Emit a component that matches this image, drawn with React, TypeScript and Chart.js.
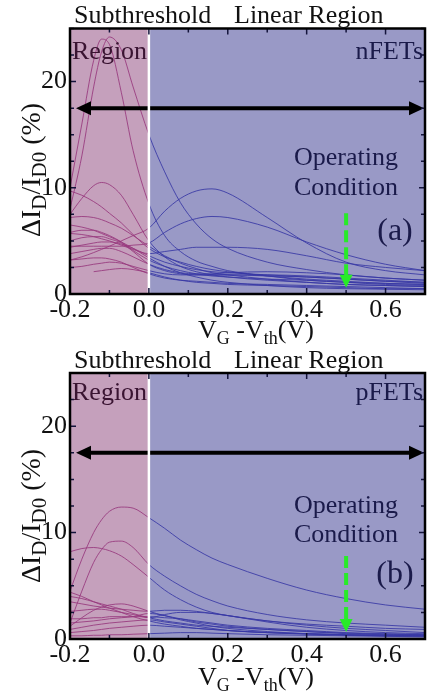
import React, { useEffect, useRef } from "react";
import { Chart, registerables } from "chart.js";

Chart.register(...registerables);

// ---------- data ----------
const xGrid = [-0.2, -0.17, -0.14, -0.12, -0.1, -0.07, -0.04, 0, 0.04, 0.08, 0.12, 0.16, 0.2, 0.3, 0.4, 0.5, 0.6, 0.7];

const n1 = [10, 16, 22, 24, 23.5, 19, 13.5, 8.5, 5.5, 4, 3.1, 2.6, 2.2, 1.7, 1.3, 1.1, 0.9, 0.8];
const n2 = [8, 13, 19.5, 22.8, 24.2, 23, 19.5, 15, 11.5, 8.6, 6.6, 5.2, 4.3, 3.0, 2.3, 1.8, 1.5, 1.3];
const n3 = [7.5, 9, 10.2, 10.5, 10.3, 9.3, 7.5, 5.0, 3.5, 2.6, 2.1, 1.8, 1.6, 1.3, 1.1, 0.9, 0.8, 0.7];
const n4 = [9.7, 9.3, 8.7, 8.2, 7.6, 6.7, 5.6, 4.3, 3.5, 3.0, 2.6, 2.3, 2.1, 1.7, 1.4, 1.2, 1.0, 0.9];
const n5 = [3.2, 3.5, 3.9, 4.2, 4.5, 5.0, 5.5, 6.2, 7.8, 9.0, 9.7, 9.9, 9.5, 7.2, 4.8, 3.0, 2.2, 1.8];
const n6 = [4.5, 4.5, 4.5, 4.5, 4.5, 4.5, 4.6, 4.8, 5.8, 6.6, 7.1, 7.3, 7.2, 6.3, 4.9, 3.7, 2.8, 2.2];
const n7 = [5.7, 5.6, 5.4, 5.2, 5.0, 4.6, 4.2, 3.8, 4.0, 4.2, 4.4, 4.4, 4.4, 4.2, 3.6, 2.9, 2.5, 2.2];
const n8 = [7.2, 7.3, 7.2, 7.0, 6.7, 6.2, 5.5, 4.5, 3.6, 2.9, 2.4, 2.0, 1.8, 1.4, 1.1, 0.9, 0.8, 0.7];
const n9 = [5.8, 6.0, 6.0, 5.8, 5.5, 4.9, 4.1, 3.2, 2.6, 2.2, 1.9, 1.7, 1.6, 1.4, 1.3, 1.1, 1.0, 0.9];
const n10 = [5.0, 5.3, 5.4, 5.4, 5.2, 4.8, 4.0, 2.8, 2.2, 1.9, 1.8, 1.8, 1.8, 1.8, 1.7, 1.5, 1.3, 1.1];
const n11 = [4.4, 4.6, 4.8, 4.9, 4.9, 4.7, 4.3, 3.6, 3.0, 2.6, 2.3, 2.1, 2.0, 1.8, 1.6, 1.4, 1.2, 1.0];
const n12 = [3.8, 4.0, 4.2, 4.3, 4.3, 4.0, 3.5, 2.8, 2.3, 2.0, 1.9, 1.9, 2.0, 2.1, 2.0, 1.8, 1.5, 1.3];
const n13 = [3.2, 3.3, 3.4, 3.4, 3.3, 3.0, 2.5, 1.9, 1.5, 1.3, 1.2, 1.1, 1.0, 0.9, 0.8, 0.7, 0.6, 0.5];
const n14 = [2.5, 2.6, 2.8, 2.9, 3.0, 2.9, 2.6, 2.2, 1.9, 1.8, 1.8, 1.8, 1.8, 1.7, 1.6, 1.4, 1.2, 1.1];
const n15 = [null, null, 2.1, 2.2, 2.3, 2.4, 2.3, 2.0, 1.6, 1.3, 1.1, 1.0, 0.9, 0.8, 0.7, 0.6, 0.5, 0.5];
const n16 = [6.5, 6.3, 6.0, 5.7, 5.4, 4.9, 4.3, 3.4, 2.6, 2.0, 1.6, 1.3, 1.1, 0.8, 0.6, 0.5, 0.45, 0.4];
const nFETCurves = [n1, n2, n3, n4, n5, n6, n7, n8, n9, n10, n11, n12, n13, n14, n15, n16];

const p1 = [4.5, 7.5, 10.0, 11.2, 12.0, 12.4, 12.3, 11.4, 10.4, 9.3, 8.4, 7.6, 7.0, 5.7, 4.6, 3.8, 3.2, 2.8];
const p2 = [1.5, 4.5, 7.2, 8.4, 9.1, 9.2, 8.6, 7.0, 5.9, 5.0, 4.2, 3.6, 3.1, 2.3, 1.8, 1.5, 1.3, 1.1];
const p3 = [8.2, 8.5, 8.6, 8.5, 8.3, 7.8, 7.0, 5.8, 4.6, 3.7, 3.0, 2.5, 2.2, 1.7, 1.4, 1.2, 1.0, 0.9];
const p4 = [4.4, 4.0, 3.5, 3.2, 2.9, 2.5, 2.1, 1.7, 1.4, 1.2, 1.0, 0.9, 0.8, 0.6, 0.5, 0.4, 0.35, 0.3];
const p5 = [1.2, 2.0, 2.7, 3.0, 3.2, 3.3, 3.1, 2.6, 2.2, 1.9, 1.6, 1.4, 1.2, 0.9, 0.7, 0.5, 0.4, 0.35];
const p6 = [3.5, 3.3, 3.1, 3.0, 2.9, 2.8, 2.7, 2.6, 2.7, 2.7, 2.6, 2.4, 2.2, 1.7, 1.3, 1.0, 0.8, 0.6];
const p7 = [2.6, 2.7, 2.8, 2.8, 2.7, 2.5, 2.3, 2.0, 2.3, 2.5, 2.5, 2.4, 2.2, 1.6, 1.1, 0.8, 0.6, 0.5];
const p8 = [1.9, 1.9, 2.0, 2.0, 2.1, 2.1, 2.1, 2.1, 2.0, 1.9, 1.7, 1.5, 1.3, 1.0, 0.8, 0.6, 0.5, 0.4];
const p9 = [0.9, 1.1, 1.3, 1.4, 1.5, 1.6, 1.7, 1.8, 1.6, 1.4, 1.2, 1.0, 0.8, 0.6, 0.45, 0.35, 0.3, 0.25];
const p10 = [0.6, 0.7, 0.8, 0.9, 1.0, 1.1, 1.2, 1.3, 1.2, 1.1, 1.0, 0.9, 0.8, 0.6, 0.5, 0.4, 0.3, 0.3];
const p11 = [0.3, 0.3, 0.35, 0.35, 0.4, 0.4, 0.45, 0.5, 0.55, 0.6, 0.6, 0.55, 0.5, 0.4, 0.35, 0.3, 0.25, 0.2];
const p12 = [1.5, 1.6, 1.7, 1.8, 1.9, 2.0, 2.1, 2.4, 2.2, 1.8, 1.5, 1.2, 1.0, 0.7, 0.5, 0.4, 0.35, 0.3];
const p13 = [4.0, 3.8, 3.5, 3.3, 3.1, 2.8, 2.4, 2.0, 1.7, 1.5, 1.3, 1.2, 1.1, 0.9, 0.7, 0.55, 0.45, 0.4];
const pFETCurves = [p1, p2, p3, p4, p5, p6, p7, p8, p9, p10, p11, p12, p13];

const xTickValues = [-0.2, 0, 0.2, 0.4, 0.6];
const xTickLabels = ["-0.2", "0.0", "0.2", "0.4", "0.6"];
const xMinorTicks = [-0.2, -0.1, 0, 0.1, 0.2, 0.3, 0.4, 0.5, 0.6, 0.7];
const yTickValues = [0, 10, 20];
const yTickLabels = ["0", "10", "20"];
const yMinorTicks = [0, 2.5, 5, 7.5, 10, 12.5, 15, 17.5, 20, 22.5, 25];
const xRange = [-0.2, 0.7];
const yRange = [0, 25];
const regionBoundary = 0;
const arrowLevel = 17.5;
const opX = 0.5;
const opTop = [7.6, 7.8];
const opTip = [0.6, 0.65];

// ---------- styling ----------
const FONT = '"Liberation Serif", "Times New Roman", serif';
const PINK_BG = "rgb(197,160,188)";
const BLUE_BG = "rgb(153,153,198)";
const PINK_LINE = "rgba(150,55,125,0.85)";
const BLUE_LINE = "rgba(55,55,165,0.85)";

type Part = { t: string; sub?: boolean };
const xTitleParts: Part[] = [{ t: "V" }, { t: "G", sub: true }, { t: " -V" }, { t: "th", sub: true }, { t: "(V)" }];
const yTitleParts: Part[] = [{ t: "ΔI" }, { t: "D", sub: true }, { t: "/I" }, { t: "D0", sub: true }, { t: " (%)" }];

function drawRich(ctx: CanvasRenderingContext2D, parts: Part[], x: number, y: number, size: number, align: string, subRatio = 0.68) {
  const subSize = Math.round(size * subRatio);
  const widths = parts.map((p) => {
    ctx.font = `${p.sub ? subSize : size}px ${FONT}`;
    return ctx.measureText(p.t).width;
  });
  const total = widths.reduce((a, b) => a + b, 0);
  let cx = align === "center" ? x - total / 2 : x;
  ctx.textAlign = "left";
  ctx.textBaseline = "alphabetic";
  parts.forEach((p, i) => {
    ctx.font = `${p.sub ? subSize : size}px ${FONT}`;
    ctx.fillText(p.t, cx, y + (p.sub ? size * 0.22 : 0));
    cx += widths[i];
  });
}

type Cfg = {
  curves: (number | null)[][];
  device: string;
  tag: string;
  padTop: number;
  bottomGap: number;
  headerBaseline: number;
  regionOffset: number;
  opOffsets: number[];
  tagOffset: number;
  xTitleBaseline: number;
  yTitleCenter: number;
  idx: number;
};

function makePlugin(cfg: Cfg) {
  return {
    id: "decor" + cfg.idx,
    beforeDatasetsDraw(chart: any) {
      const { ctx, chartArea: a, scales } = chart;
      const xb = scales.x.getPixelForValue(regionBoundary);
      ctx.save();
      ctx.fillStyle = PINK_BG;
      ctx.fillRect(a.left, a.top, xb - a.left, a.bottom - a.top);
      ctx.fillStyle = BLUE_BG;
      ctx.fillRect(xb, a.top, a.right - xb, a.bottom - a.top);
      ctx.restore();
    },
    afterDatasetsDraw(chart: any) {
      const { ctx, chartArea: a, scales } = chart;
      const xs = scales.x;
      const ys = scales.y;
      ctx.save();
      // black double arrow
      const ay = ys.getPixelForValue(arrowLevel);
      const lx = a.left + 6;
      const rx = a.right - 1;
      const hl = 15;
      const hh = 7;
      ctx.strokeStyle = "#000";
      ctx.fillStyle = "#000";
      ctx.lineWidth = 4;
      ctx.beginPath();
      ctx.moveTo(lx + hl - 2, ay);
      ctx.lineTo(rx - hl + 2, ay);
      ctx.stroke();
      ctx.beginPath();
      ctx.moveTo(lx, ay);
      ctx.lineTo(lx + hl, ay - hh);
      ctx.lineTo(lx + hl, ay + hh);
      ctx.closePath();
      ctx.fill();
      ctx.beginPath();
      ctx.moveTo(rx, ay);
      ctx.lineTo(rx - hl, ay - hh);
      ctx.lineTo(rx - hl, ay + hh);
      ctx.closePath();
      ctx.fill();
      // white boundary
      const xb = xs.getPixelForValue(regionBoundary);
      ctx.strokeStyle = "#fff";
      ctx.lineWidth = 2.5;
      ctx.beginPath();
      ctx.moveTo(xb, a.top);
      ctx.lineTo(xb, a.bottom);
      ctx.stroke();
      // green dashed arrow
      const gx = xs.getPixelForValue(opX);
      const gt = ys.getPixelForValue(opTop[cfg.idx]);
      const gb = ys.getPixelForValue(opTip[cfg.idx]);
      ctx.strokeStyle = "rgb(40,235,40)";
      ctx.fillStyle = "rgb(40,235,40)";
      ctx.lineWidth = 4;
      ctx.setLineDash([12, 5]);
      ctx.beginPath();
      ctx.moveTo(gx, gt);
      ctx.lineTo(gx, gb - 11);
      ctx.stroke();
      ctx.setLineDash([]);
      ctx.beginPath();
      ctx.moveTo(gx, gb);
      ctx.lineTo(gx - 6.5, gb - 13);
      ctx.lineTo(gx + 6.5, gb - 13);
      ctx.closePath();
      ctx.fill();
      // ticks
      ctx.strokeStyle = "#14143c";
      ctx.lineWidth = 1.5;
      xMinorTicks.forEach((v) => {
        const px = xs.getPixelForValue(v);
        const len = xTickValues.includes(v) ? 6 : 4;
        ctx.beginPath();
        ctx.moveTo(px, a.bottom);
        ctx.lineTo(px, a.bottom - len);
        ctx.moveTo(px, a.top);
        ctx.lineTo(px, a.top + len);
        ctx.stroke();
      });
      yMinorTicks.forEach((v) => {
        const py = ys.getPixelForValue(v);
        const len = yTickValues.includes(v) ? 6 : 4;
        ctx.beginPath();
        ctx.moveTo(a.left, py);
        ctx.lineTo(a.left + len, py);
        ctx.moveTo(a.right, py);
        ctx.lineTo(a.right - len, py);
        ctx.stroke();
      });
      // frame
      ctx.strokeStyle = "#000";
      ctx.lineWidth = 2.5;
      ctx.strokeRect(a.left, a.top, a.right - a.left, a.bottom - a.top);
      // in-plot texts
      ctx.textBaseline = "alphabetic";
      ctx.font = `26px ${FONT}`;
      ctx.fillStyle = "#3a1432";
      ctx.textAlign = "left";
      ctx.fillText("Region", a.left + 2, a.top + cfg.regionOffset);
      ctx.fillStyle = "#1a1a4a";
      ctx.textAlign = "right";
      ctx.fillText(cfg.device, a.right - 2, a.top + cfg.regionOffset);
      ctx.textAlign = "center";
      ctx.fillText("Operating", 346, a.top + cfg.opOffsets[0]);
      ctx.fillText("Condition", 346, a.top + cfg.opOffsets[1]);
      ctx.font = `32px ${FONT}`;
      ctx.fillText(cfg.tag, 395, a.top + cfg.tagOffset);
      // header above the plot
      ctx.fillStyle = "#111";
      ctx.font = `26px ${FONT}`;
      ctx.textAlign = "left";
      ctx.fillText("Subthreshold", 74, cfg.headerBaseline);
      ctx.fillText("Linear Region", 234, cfg.headerBaseline);
      // axis titles
      drawRich(ctx, xTitleParts, 256, cfg.xTitleBaseline, 26, "center");
      ctx.translate(40, cfg.yTitleCenter);
      ctx.rotate(-Math.PI / 2);
      drawRich(ctx, yTitleParts, 0, 0, 28, "center", 0.75);
      ctx.restore();
    },
  };
}

function Panel({ cfg }: { cfg: Cfg }) {
  const ref = useRef<HTMLCanvasElement | null>(null);
  useEffect(() => {
    if (!ref.current) return;
    const datasets = cfg.curves.map((arr, i) => ({
      label: "curve " + (i + 1),
      data: xGrid.map((x, j) => ({ x, y: arr[j] })),
      borderWidth: 1,
      pointRadius: 0,
      cubicInterpolationMode: "monotone" as const,
      borderColor: BLUE_LINE,
      segment: {
        borderColor: (c: any) => (c.p0.parsed.x < regionBoundary ? PINK_LINE : BLUE_LINE),
      },
    }));
    const chart = new Chart(ref.current, {
      type: "line",
      data: { datasets },
      options: {
        responsive: false,
        animation: false,
        layout: { padding: { top: cfg.padTop, right: 2, left: 0, bottom: 0 } },
        plugins: { legend: { display: false }, tooltip: { enabled: false } },
        scales: {
          x: {
            type: "linear",
            min: xRange[0],
            max: xRange[1],
            afterBuildTicks: (s: any) => {
              s.ticks = xTickValues.map((v) => ({ value: v }));
            },
            afterFit: (s: any) => {
              s.height = cfg.bottomGap;
            },
            ticks: {
              callback: (_v: any, i: number) => xTickLabels[i],
              font: { family: FONT, size: 26 },
              color: "#111",
              padding: 1,
              maxRotation: 0,
              autoSkip: false,
            },
            grid: { display: false, drawTicks: false },
            border: { display: false },
          },
          y: {
            type: "linear",
            min: yRange[0],
            max: yRange[1],
            afterBuildTicks: (s: any) => {
              s.ticks = yTickValues.map((v) => ({ value: v }));
            },
            afterFit: (s: any) => {
              s.width = 70;
            },
            ticks: {
              callback: (_v: any, i: number) => yTickLabels[i],
              font: { family: FONT, size: 26 },
              color: "#111",
              padding: 3,
              autoSkip: false,
            },
            grid: { display: false, drawTicks: false },
            border: { display: false },
          },
        },
      },
      plugins: [makePlugin(cfg)],
    });
    return () => chart.destroy();
  }, [cfg]);
  return <canvas ref={ref} width={427} height={348} style={{ display: "block" }} />;
}

const topCfg: Cfg = {
  curves: nFETCurves,
  device: "nFETs",
  tag: "(a)",
  padTop: 28.5,
  bottomGap: 54,
  headerBaseline: 23,
  regionOffset: 30,
  opOffsets: [136.5, 166],
  tagOffset: 211.5,
  xTitleBaseline: 338,
  yTitleCenter: 170,
  idx: 0,
};
const bottomCfg: Cfg = {
  curves: pFETCurves,
  device: "pFETs",
  tag: "(b)",
  padTop: 25,
  bottomGap: 57,
  headerBaseline: 20,
  regionOffset: 27,
  opOffsets: [140, 169],
  tagOffset: 210,
  xTitleBaseline: 337,
  yTitleCenter: 168,
  idx: 1,
};

export default function App() {
  return (
    <div style={{ position: "absolute", left: 0, top: 0, width: 427, height: 696, background: "#fff" }}>
      <Panel cfg={topCfg} />
      <Panel cfg={bottomCfg} />
    </div>
  );
}
